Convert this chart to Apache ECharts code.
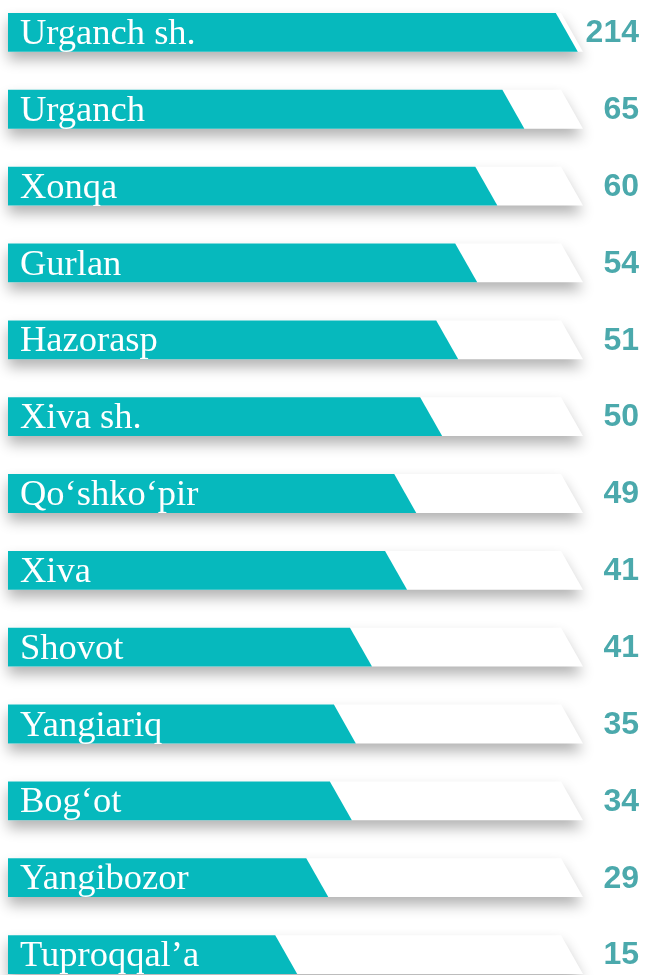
<!DOCTYPE html>
<html>
<head>
<meta charset="utf-8">
<script src="https://cdn.jsdelivr.net/npm/echarts@6/dist/echarts.min.js"></script>
<style>
    html, body { margin: 0; padding: 0; background: #ffffff; }
    #main { width: 645px; height: 975px; }
</style>
</head>
<body>
<div id="main"></div>
<script>
    // districts, top to bottom
    var districts = ['Urganch sh.', 'Urganch', 'Xonqa', 'Gurlan', 'Hazorasp', 'Xiva sh.', 'Qo‘shko‘pir',
        'Xiva', 'Shovot', 'Yangiariq', 'Bog‘ot', 'Yangibozor', 'Tuproqqal’a']
    // numbers printed at the right
    var values = [214, 65, 60, 54, 51, 50, 49, 41, 41, 35, 34, 29, 15]
    // drawn length of each teal bar, % of the white track
    var barLength = [99.1, 89.8, 85.1, 81.6, 78.3, 75.5, 71.0, 69.4, 63.3, 60.5, 59.8, 55.7, 50.3]
    var trackLength = 100

    var slant = 22
    var barHeight = 38.8

    function shape(x0, x1, yc, h) {
        return [[x0, yc - h / 2], [x1 - slant, yc - h / 2], [x1, yc + h / 2], [x0, yc + h / 2]]
    }

    var myChart = echarts.init(document.getElementById('main'))
    myChart.setOption({
        animation: false,
        grid: {
            left: 8,
            right: 62,
            top: 0,
            bottom: 0
        },
        xAxis: {
            type: 'value',
            min: 0,
            max: trackLength,
            show: false
        },
        // rows run past the bottom edge, the last one is cut off
        yAxis: {
            type: 'value',
            inverse: true,
            min: -0.4216,
            max: 12.266,
            show: false
        },
        series: [{
                // white track with a soft shadow
                type: 'custom',
                data: districts.map(function (d, i) { return [trackLength, i] }),
                renderItem: function (params, api) {
                    var s = api.coord([0, api.value(1)])
                    var e = api.coord([api.value(0), api.value(1)])
                    return {
                        type: 'polygon',
                        shape: { points: shape(s[0], e[0], s[1], barHeight) },
                        style: {
                            fill: '#ffffff',
                            shadowColor: 'rgba(0, 0, 0, 0.3)',
                            shadowBlur: 14,
                            shadowOffsetY: 8
                        }
                    }
                },
                z: 1
            },
            {
                // teal bar with name and value
                type: 'custom',
                data: barLength.map(function (v, i) { return [v, i] }),
                renderItem: function (params, api) {
                    var i = api.value(1)
                    var s = api.coord([0, i])
                    var e = api.coord([api.value(0), i])
                    var t = api.coord([trackLength, i])
                    return {
                        type: 'group',
                        children: [{
                                type: 'polygon',
                                shape: { points: shape(s[0], e[0], s[1], barHeight) },
                                style: { fill: '#06b9bd' }
                            },
                            {
                                type: 'text',
                                style: {
                                    text: districts[i],
                                    x: s[0] + 12,
                                    y: s[1] + 2,
                                    fill: '#ffffff',
                                    font: '36.5px "Liberation Serif", serif',
                                    align: 'left',
                                    verticalAlign: 'middle'
                                }
                            },
                            {
                                type: 'text',
                                style: {
                                    text: String(values[i]),
                                    x: t[0] + 56,
                                    y: s[1] + 1,
                                    fill: '#4ba9ac',
                                    font: 'bold 32px "Liberation Sans", Arial, sans-serif',
                                    align: 'right',
                                    verticalAlign: 'middle'
                                }
                            }
                        ]
                    }
                },
                z: 2
            }
        ]
    })
</script>
</body>
</html>
